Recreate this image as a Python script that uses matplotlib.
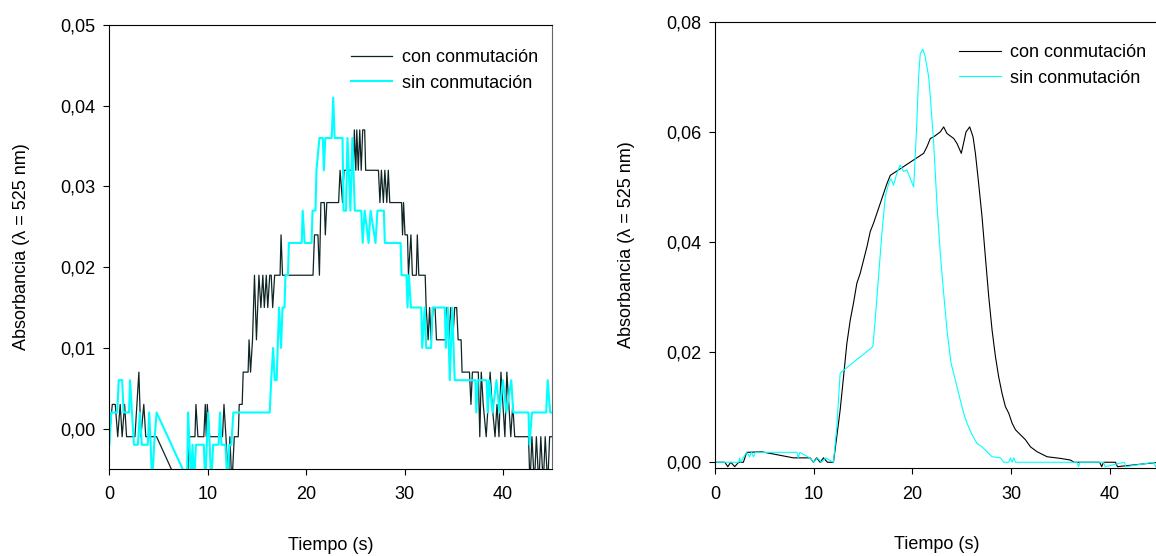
import matplotlib
matplotlib.use("Agg")
import matplotlib.pyplot as plt
from matplotlib.ticker import FuncFormatter, MultipleLocator

plt.rcParams['font.family'] = ['Liberation Sans', 'DejaVu Sans']

# --- panel A, data (s, absorbance)
con_a_t = [0.0, 0.3, 0.6, 0.85, 1.1, 1.3, 1.55, 1.75, 2.6, 3.0, 3.2, 3.5, 3.7, 4.8,
           7.9, 8.1, 8.7, 8.8, 9.0, 9.6, 9.75, 9.85, 9.95, 10.2, 11.5, 11.65, 11.85,
           12.1, 12.25, 12.45, 12.7, 13.1, 13.2, 13.5, 13.6, 14.1, 14.2, 14.35, 14.55,
           14.75, 14.95, 15.2, 15.4, 15.6, 15.75, 15.95, 16.1, 16.3, 16.45, 16.6, 16.8,
           17.35, 17.45, 17.6, 20.7, 20.85, 21.2, 21.35, 21.5, 21.85, 21.95, 22.1,
           23.3, 23.45, 23.7, 23.85, 24.8, 24.9, 25.05, 25.15, 25.3, 25.45, 25.6,
           25.75, 25.95, 26.05, 27.35, 27.5, 27.65, 27.85, 28.0, 28.2, 28.35, 28.5,
           29.7, 29.8, 29.9, 30.05, 30.3, 30.4, 30.65, 30.8, 31.2, 31.3, 31.45, 32.1,
           32.2, 32.4, 32.55, 32.7, 32.9, 33.1, 33.25, 34.2, 34.3, 34.5, 34.7, 34.9,
           35.1, 35.3, 35.45, 35.75, 35.85, 36.6, 36.75, 36.9, 37.5, 37.65, 37.8,
           38.0, 38.3, 38.5, 38.7, 38.9, 39.2, 39.4, 39.6, 39.8, 40.0, 40.2, 40.4,
           40.6, 40.8, 41.0, 41.2, 42.6, 42.75, 42.95, 43.2, 43.4, 43.65, 43.85,
           44.1, 44.3, 44.55, 44.75, 45.0]
con_a_v = [-0.001, 0.003, 0.003, -0.001, 0.003, -0.001, 0.003, -0.001, -0.001, 0.007,
           -0.001, 0.003, -0.001, -0.001,
           -0.0093, -0.001, -0.001, 0.003, -0.001, -0.001, 0.003, -0.001, 0.003,
           -0.001, -0.001, 0.003, -0.001,
           -0.007, -0.001, -0.007, -0.001, -0.001, 0.003, 0.003, 0.007, 0.007, 0.011,
           0.007, 0.011,
           0.019, 0.011, 0.019, 0.015, 0.019, 0.015, 0.019, 0.015, 0.019, 0.019,
           0.015, 0.019,
           0.019, 0.024, 0.019, 0.019, 0.024, 0.024, 0.019, 0.028, 0.028, 0.024, 0.028,
           0.028, 0.032, 0.028, 0.032, 0.032, 0.037, 0.032, 0.037, 0.032, 0.037, 0.032,
           0.037, 0.037, 0.032, 0.032, 0.028, 0.032, 0.028, 0.032, 0.028, 0.032, 0.028,
           0.028, 0.024, 0.028, 0.024, 0.024, 0.019, 0.024, 0.019, 0.019, 0.024, 0.019,
           0.019,
           0.015, 0.011, 0.015, 0.011, 0.015, 0.015, 0.011, 0.011, 0.015, 0.011, 0.015,
           0.011,
           0.015, 0.015, 0.011, 0.011, 0.007, 0.007, 0.003, 0.007, 0.007, -0.001, 0.007,
           0.003, -0.001, 0.003, 0.007, 0.003, -0.001, 0.003, -0.001, 0.007, 0.003,
           -0.001, 0.007,
           0.003, -0.001, 0.003, -0.001, -0.001, -0.007, -0.001, -0.007, -0.001, -0.007,
           -0.001,
           -0.007, -0.001, -0.007, -0.001, -0.001]

sin_a_t = [0.0, 0.2, 0.8, 0.95, 1.3, 1.45, 2.0, 2.1, 2.3, 2.5, 2.9, 3.1, 3.3, 3.9, 4.05,
           4.2, 4.35, 4.55, 4.8, 7.9, 8.0, 8.15, 8.3, 8.45, 8.6, 8.8, 9.6, 9.75, 9.9,
           10.05, 10.2, 10.35, 10.55, 11.1, 11.25, 11.4, 11.8, 12.0, 12.2, 12.4, 12.6,
           16.3, 16.45, 16.65, 16.8, 17.0, 17.25, 17.45, 17.6, 17.8, 17.9, 18.15, 18.25,
           19.55, 19.65, 19.85, 20.55, 20.65, 20.95, 21.05, 21.35, 21.7, 21.8, 21.95,
           22.6, 22.75, 22.9, 23.7, 23.8, 24.05, 24.2, 24.5, 24.7, 24.95, 25.6, 25.75,
           25.95, 26.35, 26.55, 27.05, 27.25, 27.9, 28.0, 29.6, 29.7, 30.2, 30.3, 30.45,
           30.65, 31.7, 31.8, 32.05, 32.2, 32.7, 32.85, 34.1, 34.2, 34.4, 34.6, 34.85,
           35.1, 37.2, 37.3, 37.45, 38.35, 38.45, 38.6, 38.95, 39.35, 39.65, 40.0,
           40.35, 40.85, 41.05, 42.6, 42.7, 42.95, 44.4, 44.55, 44.8, 45.0]
sin_a_v = [-0.002, 0.002, 0.002, 0.006, 0.006, 0.002, 0.002, 0.006, 0.002, -0.002,
           -0.002, 0.002, -0.002, -0.002, 0.002,
           -0.002, -0.007, -0.002, 0.002, -0.0062, 0.002, -0.002, -0.007, -0.002, -0.007,
           -0.002, -0.002, -0.007, -0.002,
           0.002, -0.002, -0.007, -0.002, -0.002, 0.002, -0.002, -0.002, -0.007, -0.002,
           -0.002, 0.002,
           0.002, 0.006, 0.010, 0.006, 0.006, 0.015, 0.010, 0.015, 0.015, 0.019, 0.019,
           0.023,
           0.023, 0.027, 0.023, 0.023, 0.027, 0.027, 0.032, 0.036, 0.036, 0.032, 0.036,
           0.036, 0.041, 0.036, 0.036, 0.027, 0.027, 0.036, 0.027, 0.036, 0.027, 0.027,
           0.023,
           0.027, 0.023, 0.027, 0.023, 0.027, 0.027, 0.023, 0.023, 0.019, 0.019, 0.015,
           0.019,
           0.015, 0.015, 0.010, 0.015, 0.010, 0.010, 0.015, 0.015, 0.010, 0.015, 0.006,
           0.015,
           0.006, 0.006, 0.002, 0.006, 0.006, 0.002, 0.006, 0.002, 0.006, 0.002, 0.006,
           0.002, 0.006, 0.002, 0.002, -0.002, 0.002, 0.002, 0.006, 0.002, 0.002]

# --- panel B
con_b_t = [0.0, 1.0, 1.3, 1.6, 2.0, 2.4, 2.88, 3.21, 4.74, 7.95, 9.64, 9.98, 10.3, 10.66,
           11.0, 11.4, 12.01, 12.35, 12.69, 13.03, 13.37, 13.71, 14.04, 14.38, 14.72,
           15.06, 15.4, 15.74, 16.07, 16.41, 16.75, 17.09, 17.43, 17.77, 21.15, 21.49,
           21.83, 22.17, 22.84, 23.18, 23.52, 24.2, 24.53, 24.97, 25.45, 25.82, 26.16,
           26.4, 26.73, 27.07, 27.41, 27.75, 28.09, 28.43, 28.76, 29.1, 29.44, 29.78,
           30.12, 30.46, 30.96, 31.47, 31.98, 32.66, 33.67, 35.03, 36.04, 36.38, 39.0,
           39.2, 39.4, 40.6, 40.8, 45.0]
con_b_v = [0.0, 0.0, -0.0008, 0.0, -0.0008, 0.0, 0.0, 0.0018, 0.0019, 0.0008, 0.0008,
           0.0, 0.0008, 0.0, 0.0008, 0.0, 0.0, 0.0047, 0.0095, 0.0155, 0.0216, 0.0258,
           0.0289, 0.0325, 0.0343, 0.0367, 0.0391, 0.0419, 0.0434, 0.0452, 0.0470,
           0.0488, 0.0506, 0.0521, 0.0561, 0.0573, 0.0588, 0.0591, 0.0600, 0.0609,
           0.0597, 0.0588, 0.0579, 0.0561, 0.0600, 0.0609, 0.0591, 0.0561, 0.0506,
           0.0446, 0.0373, 0.0301, 0.0240, 0.0192, 0.0155, 0.0125, 0.0101, 0.0089,
           0.0071, 0.0059, 0.0050, 0.0041, 0.0028, 0.0019, 0.0010, 0.0007, 0.0004, 0.0,
           0.0, -0.0008, 0.0, 0.0, -0.0008, 0.0]

sin_b_t = [0.0, 2.4, 2.5, 2.6, 3.2, 3.5, 3.7, 3.9, 4.1, 8.3, 8.45, 8.6, 9.6, 10.0,
           10.4, 10.8, 11.2, 12.01, 12.35, 12.69, 16.01, 16.24, 16.58, 16.92, 17.26,
           17.6, 17.83, 18.1, 18.44, 18.78, 19.12, 19.46, 19.8, 20.14, 20.3, 20.47,
           20.64, 20.81, 21.08, 21.32, 21.66, 21.83, 22.17, 22.5, 22.84, 23.18, 23.52,
           23.93, 24.37, 24.7, 25.21, 25.55, 26.06, 26.57, 27.07, 27.58, 28.09, 28.93,
           29.27, 29.78, 29.95, 30.12, 30.29, 30.46, 36.7, 36.85, 37.0, 39.4, 39.55,
           41.5, 41.65, 44.5, 44.65, 45.0]
sin_b_v = [0.0, 0.0, 0.0008, 0.0, 0.0018, 0.0010, 0.0018, 0.0010, 0.0018, 0.0018,
           0.0008, 0.0018, 0.0008, 0.0, 0.0008, 0.0, 0.0008, 0.0, 0.0065, 0.0162,
           0.0210, 0.0258, 0.0337, 0.0416, 0.0482, 0.0506, 0.0515, 0.0503, 0.0525,
           0.0540, 0.0528, 0.0531, 0.0515, 0.0500, 0.0555, 0.0621, 0.0700, 0.0742,
           0.0750, 0.0736, 0.0700, 0.0664, 0.0579, 0.0470, 0.0379, 0.0307, 0.0240,
           0.0180, 0.0149, 0.0125, 0.0089, 0.0071, 0.0050, 0.0034, 0.0028, 0.0019,
           0.0010, 0.0008, 0.0, 0.0, 0.0008, 0.0, 0.0008, 0.0, 0.0, -0.0008, 0.0, 0.0,
           -0.0008, 0.0, -0.0008, 0.0, -0.0008, 0.0]

labels = ['con conmutación', 'sin conmutación']
xlab = 'Tiempo (s)'
ylab = 'Absorbancia (λ = 525 nm)'

FS = 13
comma = FuncFormatter(lambda v, p: ('%.2f' % v).replace('.', ','))

fig = plt.figure(figsize=(11.56, 5.56), dpi=100)
axA = fig.add_axes([0.0946, 0.1565, 0.383, 0.7986])
axB = fig.add_axes([0.6185, 0.1577, 0.384, 0.8032])

axA.plot(con_a_t, con_a_v, color='#0f2424', lw=0.9, label=labels[0])
axA.plot(sin_a_t, sin_a_v, color='#00ffff', lw=1.5, label=labels[1])
axA.set_xlim(0, 45)
axA.set_ylim(-0.005, 0.05)
axA.yaxis.set_major_locator(MultipleLocator(0.01))

axB.plot(con_b_t, con_b_v, color='black', lw=0.8, label=labels[0])
axB.plot(sin_b_t, sin_b_v, color='#00ffff', lw=0.8, label=labels[1])
axB.set_xlim(0, 45)
axB.set_ylim(-0.0011, 0.08)
axB.yaxis.set_major_locator(MultipleLocator(0.02))

for ax, anchor, ypad in [(axA, (0.545, 0.946), 22), (axB, (0.55, 0.950), 22)]:
    ax.xaxis.set_major_locator(MultipleLocator(10))
    ax.yaxis.set_major_formatter(comma)
    ax.tick_params(direction='out', length=4, width=0.8, labelsize=FS, pad=6)
    ax.tick_params(axis='x', pad=8.5)
    for s in ax.spines.values():
        s.set_linewidth(0.8)
    ax.set_xlabel(xlab, fontsize=FS, labelpad=24)
    ax.set_ylabel(ylab, fontsize=FS, labelpad=ypad)
    ax.legend(loc='upper left', bbox_to_anchor=anchor, frameon=False, fontsize=FS,
              handlelength=2.3, handletextpad=0.52, labelspacing=0.48,
              borderpad=0, borderaxespad=0)
axA.spines['right'].set_color('#666666')

fig.savefig('out.png', dpi=100)
